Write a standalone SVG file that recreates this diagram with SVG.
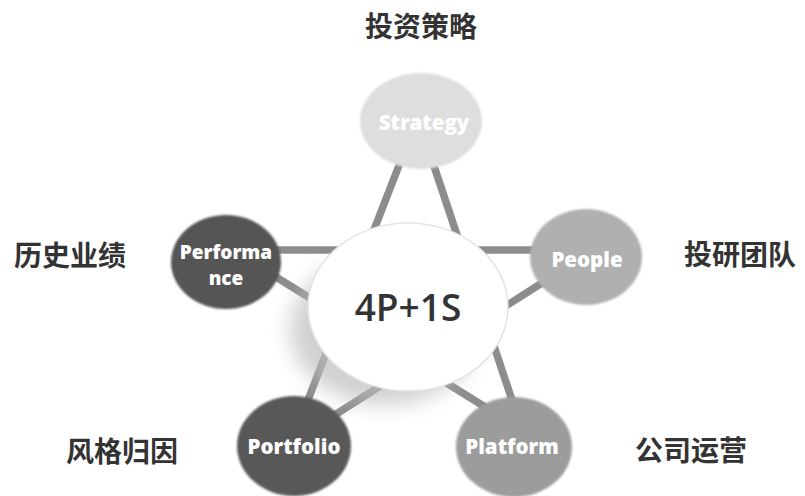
<svg xmlns="http://www.w3.org/2000/svg" width="805" height="496" viewBox="0 0 805 496">
<defs>
<style>
.cn{font-family:"Noto Sans CJK SC","Noto Sans",sans-serif;font-weight:700;font-size:28px;fill:#333;text-anchor:middle}
.lb{font-family:"Open Sans","DejaVu Sans",sans-serif;font-weight:800;font-size:20.5px;fill:#fff;text-anchor:middle}
.ln{stroke:#8c8c8c;stroke-width:7.5;fill:none}
</style>
<filter id="blur" x="-30%" y="-30%" width="160%" height="160%"><feGaussianBlur stdDeviation="10"/></filter>
<filter id="soft" x="-10%" y="-10%" width="120%" height="120%"><feGaussianBlur stdDeviation="1.2"/></filter>
</defs>
<rect width="805" height="496" fill="#fff"/>
<g id="connectors">
<line class="ln" x1="405" y1="150" x2="306" y2="405"/>
<line class="ln" x1="432" y1="160" x2="512" y2="400"/>
<line class="ln" x1="270" y1="250" x2="540" y2="250"/>
<line class="ln" x1="268" y1="272" x2="490" y2="410"/>
<line class="ln" x1="545" y1="281" x2="330" y2="418"/>
</g>
<g id="node-strategy">
<ellipse cx="421" cy="121" rx="61" ry="48" fill="#dedede" filter="url(#soft)"/>
<text class="lb" x="424" y="130">Strategy</text>
</g>
<g id="node-performance">
<ellipse cx="226" cy="262" rx="55" ry="47" fill="#555" filter="url(#soft)"/>
<text class="lb" x="226" y="259" style="font-size:19px">Performa</text>
<text class="lb" x="226" y="285" style="font-size:19px">nce</text>
</g>
<g id="node-people">
<ellipse cx="586" cy="257" rx="56" ry="48" fill="#b0b0b0" filter="url(#soft)"/>
<text class="lb" x="587" y="267">People</text>
</g>
<g id="node-portfolio">
<ellipse cx="294" cy="446" rx="57" ry="50" fill="#585858" filter="url(#soft)"/>
<text class="lb" x="294" y="454">Portfolio</text>
</g>
<g id="node-platform">
<ellipse cx="514" cy="447" rx="58" ry="50" fill="#9c9c9c" filter="url(#soft)"/>
<text class="lb" x="512" y="454">Platform</text>
</g>
<g id="node-center">
<ellipse cx="385" cy="330" rx="95" ry="75" fill="#bdbdbd" opacity="0.7" filter="url(#blur)"/>
<ellipse cx="408" cy="307" rx="100" ry="84" fill="#fff" stroke="#e4e4e4" stroke-width="1.5"/>
<text x="408" y="321" font-family="Open Sans, DejaVu Sans, sans-serif" font-weight="600" font-size="37" fill="#333" text-anchor="middle">4P+1S</text>
</g>
<g id="labels">
<text class="cn" x="421" y="37">投资策略</text>
<text class="cn" x="70" y="266">历史业绩</text>
<text class="cn" x="740" y="265">投研团队</text>
<text class="cn" x="122" y="462">风格归因</text>
<text class="cn" x="691" y="461">公司运营</text>
</g>
</svg>
